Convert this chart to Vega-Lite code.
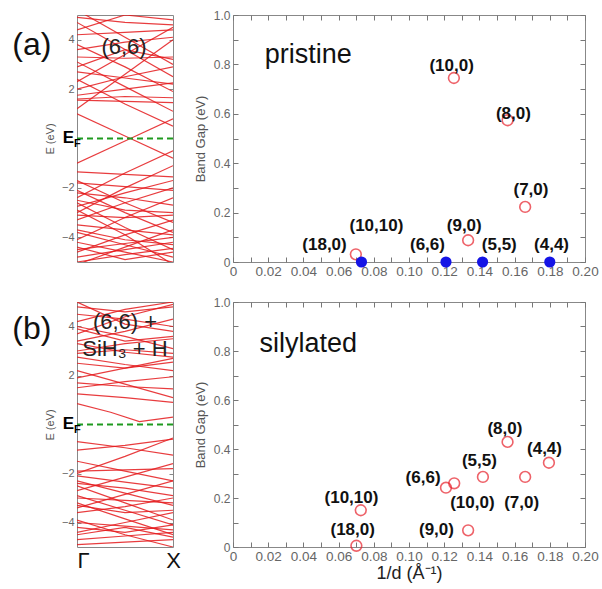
{
"$schema":"https://vega.github.io/schema/vega-lite/v6.json",
"background":"white",
"padding":{"left":11,"top":8,"right":2,"bottom":2},
"config":{"font":"Liberation Sans","view":{"stroke":"#888"},"axis":{"grid":false,"labelFlush":false,"labelOverlap":false}},
"datasets":{
"bandsA":[
{"band":"a1","k":0,"E":1.0},{"band":"a1","k":0.5,"E":0.1},{"band":"a1","k":1,"E":-0.8},
{"band":"a2","k":0,"E":-1.0},{"band":"a2","k":0.5,"E":-0.1},{"band":"a2","k":1,"E":0.8},
{"band":"a3","k":0,"E":2.4},{"band":"a3","k":0.5,"E":1.4},{"band":"a3","k":1,"E":0.5},
{"band":"a4","k":0,"E":-2.4},{"band":"a4","k":0.5,"E":-1.4},{"band":"a4","k":1,"E":-0.5},
{"band":"a5","k":0,"E":1.55},{"band":"a5","k":0.5,"E":1.5},{"band":"a5","k":1,"E":1.45},
{"band":"a6","k":0,"E":-1.35},{"band":"a6","k":0.5,"E":-1.45},{"band":"a6","k":1,"E":-1.55},
{"band":"a7","k":0,"E":1.75},{"band":"a7","k":0.5,"E":2.0},{"band":"a7","k":1,"E":2.25},
{"band":"a8","k":0,"E":2.7},{"band":"a8","k":0.5,"E":2.45},{"band":"a8","k":1,"E":2.2},
{"band":"a9","k":0,"E":3.1},{"band":"a9","k":0.5,"E":2.1},{"band":"a9","k":1,"E":1.1},
{"band":"a10","k":0,"E":-3.0},{"band":"a10","k":0.5,"E":-2.0},{"band":"a10","k":1,"E":-1.1},
{"band":"a11","k":0,"E":4.7},{"band":"a11","k":0.5,"E":3.6},{"band":"a11","k":1,"E":2.5},
{"band":"a12","k":0,"E":2.3},{"band":"a12","k":0.5,"E":3.4},{"band":"a12","k":1,"E":4.5},
{"band":"a13","k":0,"E":4.2},{"band":"a13","k":0.5,"E":4.3},{"band":"a13","k":1,"E":4.4},
{"band":"a14","k":0,"E":3.3},{"band":"a14","k":0.5,"E":3.25},{"band":"a14","k":1,"E":3.3},
{"band":"a15","k":0,"E":5.2},{"band":"a15","k":0.5,"E":4.1},{"band":"a15","k":1,"E":3.0},
{"band":"a16","k":0,"E":1.2},{"band":"a16","k":0.5,"E":2.6},{"band":"a16","k":1,"E":4.0},
{"band":"a17","k":0,"E":3.8},{"band":"a17","k":0.5,"E":2.9},{"band":"a17","k":1,"E":1.9},
{"band":"a18","k":0,"E":4.9},{"band":"a18","k":0.5,"E":4.7},{"band":"a18","k":1,"E":4.6},
{"band":"a19","k":0,"E":2.0},{"band":"a19","k":0.5,"E":2.5},{"band":"a19","k":1,"E":2.9},
{"band":"a20","k":0,"E":-1.8},{"band":"a20","k":0.5,"E":-1.95},{"band":"a20","k":1,"E":-2.1},
{"band":"a21","k":0,"E":-2.1},{"band":"a21","k":0.5,"E":-3.0},{"band":"a21","k":1,"E":-3.8},
{"band":"a22","k":0,"E":-3.3},{"band":"a22","k":0.5,"E":-2.6},{"band":"a22","k":1,"E":-2.0},
{"band":"a23","k":0,"E":-2.6},{"band":"a23","k":0.5,"E":-3.6},{"band":"a23","k":1,"E":-4.5},
{"band":"a24","k":0,"E":-3.5},{"band":"a24","k":0.5,"E":-3.7},{"band":"a24","k":1,"E":-3.9},
{"band":"a25","k":0,"E":-4.1},{"band":"a25","k":0.5,"E":-3.2},{"band":"a25","k":1,"E":-2.4},
{"band":"a26","k":0,"E":-4.5},{"band":"a26","k":0.5,"E":-4.25},{"band":"a26","k":1,"E":-4.0},
{"band":"a27","k":0,"E":-2.9},{"band":"a27","k":0.5,"E":-3.9},{"band":"a27","k":1,"E":-5.1},
{"band":"a28","k":0,"E":-4.8},{"band":"a28","k":0.5,"E":-4.5},{"band":"a28","k":1,"E":-4.2},
{"band":"a29","k":0,"E":-1.7},{"band":"a29","k":0.5,"E":-2.6},{"band":"a29","k":1,"E":-3.4},
{"band":"a30","k":0,"E":-4.2},{"band":"a30","k":0.5,"E":-4.6},{"band":"a30","k":1,"E":-5.0},
{"band":"a31","k":0,"E":-3.8},{"band":"a31","k":0.5,"E":-4.3},{"band":"a31","k":1,"E":-4.8},
{"band":"a32","k":0,"E":-5.0},{"band":"a32","k":0.5,"E":-4.7},{"band":"a32","k":1,"E":-4.45},
{"band":"a33","k":0,"E":-2.2},{"band":"a33","k":0.5,"E":-2.4},{"band":"a33","k":1,"E":-2.7},
{"band":"a34","k":0,"E":-4.6},{"band":"a34","k":0.5,"E":-3.9},{"band":"a34","k":1,"E":-3.3},
{"band":"a35","k":0,"E":-3.1},{"band":"a35","k":0.5,"E":-3.2},{"band":"a35","k":1,"E":-3.1},
{"band":"a37","k":0,"E":-2.75},{"band":"a37","k":0.5,"E":-2.2},{"band":"a37","k":1,"E":-1.7},
{"band":"a38","k":0,"E":3.6},{"band":"a38","k":0.5,"E":3.9},{"band":"a38","k":1,"E":4.1},
{"band":"a39","k":0,"E":2.9},{"band":"a39","k":0.5,"E":3.6},{"band":"a39","k":1,"E":3.2},
{"band":"a40","k":0,"E":-5.1},{"band":"a40","k":0.5,"E":-4.4},{"band":"a40","k":1,"E":-3.7},
{"band":"a41","k":0,"E":-3.7},{"band":"a41","k":0.5,"E":-4.1},{"band":"a41","k":1,"E":-4.3},
{"band":"a42","k":0,"E":-4.4},{"band":"a42","k":0.5,"E":-4.9},{"band":"a42","k":1,"E":-4.6},
{"band":"a43","k":0,"E":-2.5},{"band":"a43","k":0.5,"E":-2.9},{"band":"a43","k":1,"E":-3.0},
{"band":"a44","k":0,"E":4.4},{"band":"a44","k":0.5,"E":5.0},{"band":"a44","k":1,"E":4.8},
{"band":"a45","k":0,"E":1.6},{"band":"a45","k":0.5,"E":1.7},{"band":"a45","k":1,"E":1.65}
],
"bandsB":[
{"band":"b1","k":0,"E":0.85},{"band":"b1","k":0.35,"E":0.5},{"band":"b1","k":0.65,"E":0.12},{"band":"b1","k":1,"E":0.3},
{"band":"b2","k":0,"E":-0.7},{"band":"b2","k":0.5,"E":-0.95},{"band":"b2","k":1,"E":-1.25},
{"band":"b3","k":0,"E":-1.05},{"band":"b3","k":0.5,"E":-0.85},{"band":"b3","k":1,"E":-0.6},
{"band":"b4","k":0,"E":-2.0},{"band":"b4","k":0.5,"E":-1.3},{"band":"b4","k":1,"E":-0.55},
{"band":"b5","k":0,"E":1.25},{"band":"b5","k":0.5,"E":1.1},{"band":"b5","k":1,"E":0.9},
{"band":"b6","k":0,"E":1.5},{"band":"b6","k":0.5,"E":1.75},{"band":"b6","k":1,"E":1.95},
{"band":"b7","k":0,"E":2.2},{"band":"b7","k":0.5,"E":1.65},{"band":"b7","k":1,"E":1.1},
{"band":"b8","k":0,"E":2.5},{"band":"b8","k":0.5,"E":2.3},{"band":"b8","k":1,"E":2.55},
{"band":"b9","k":0,"E":1.9},{"band":"b9","k":0.5,"E":2.3},{"band":"b9","k":1,"E":2.7},
{"band":"b10","k":0,"E":2.75},{"band":"b10","k":0.5,"E":2.45},{"band":"b10","k":1,"E":2.2},
{"band":"b11","k":0,"E":1.7},{"band":"b11","k":0.5,"E":1.55},{"band":"b11","k":1,"E":1.45},
{"band":"b12","k":0,"E":-2.3},{"band":"b12","k":0.5,"E":-2.8},{"band":"b12","k":1,"E":-3.3},
{"band":"b13","k":0,"E":-2.5},{"band":"b13","k":0.5,"E":-3.2},{"band":"b13","k":1,"E":-3.9},
{"band":"b14","k":0,"E":-2.9},{"band":"b14","k":0.5,"E":-3.5},{"band":"b14","k":1,"E":-4.1},
{"band":"b15","k":0,"E":-3.2},{"band":"b15","k":0.5,"E":-3.85},{"band":"b15","k":1,"E":-4.5},
{"band":"b16","k":0,"E":-2.1},{"band":"b16","k":0.5,"E":-2.35},{"band":"b16","k":1,"E":-2.6},
{"band":"b17","k":0,"E":-1.9},{"band":"b17","k":0.5,"E":-1.85},{"band":"b17","k":1,"E":-1.8},
{"band":"b18","k":0,"E":-3.6},{"band":"b18","k":0.5,"E":-3.35},{"band":"b18","k":1,"E":-3.0},
{"band":"b19","k":0,"E":-4.0},{"band":"b19","k":0.5,"E":-4.15},{"band":"b19","k":1,"E":-4.3},
{"band":"b20","k":0,"E":-4.4},{"band":"b20","k":0.5,"E":-4.0},{"band":"b20","k":1,"E":-3.6},
{"band":"b21","k":0,"E":-4.7},{"band":"b21","k":0.5,"E":-4.55},{"band":"b21","k":1,"E":-4.4},
{"band":"b22","k":0,"E":-3.9},{"band":"b22","k":0.5,"E":-4.5},{"band":"b22","k":1,"E":-5.0},
{"band":"b23","k":0,"E":-4.9},{"band":"b23","k":0.5,"E":-4.8},{"band":"b23","k":1,"E":-4.7},
{"band":"b24","k":0,"E":-2.7},{"band":"b24","k":0.5,"E":-2.15},{"band":"b24","k":1,"E":-1.6},
{"band":"b25","k":0,"E":-3.4},{"band":"b25","k":0.5,"E":-2.85},{"band":"b25","k":1,"E":-2.3},
{"band":"b26","k":0,"E":-1.5},{"band":"b26","k":0.5,"E":-1.9},{"band":"b26","k":1,"E":-2.3},
{"band":"b27","k":0,"E":-3.0},{"band":"b27","k":0.5,"E":-3.1},{"band":"b27","k":1,"E":-3.2},
{"band":"b28","k":0,"E":-4.2},{"band":"b28","k":0.5,"E":-4.4},{"band":"b28","k":1,"E":-4.1},
{"band":"b29","k":0,"E":3.0},{"band":"b29","k":0.5,"E":3.3},{"band":"b29","k":1,"E":3.5},
{"band":"b30","k":0,"E":3.4},{"band":"b30","k":0.5,"E":3.8},{"band":"b30","k":1,"E":4.3},
{"band":"b31","k":0,"E":4.0},{"band":"b31","k":0.5,"E":3.6},{"band":"b31","k":1,"E":3.1},
{"band":"b32","k":0,"E":4.5},{"band":"b32","k":0.5,"E":4.3},{"band":"b32","k":1,"E":4.0},
{"band":"b33","k":0,"E":3.7},{"band":"b33","k":0.5,"E":4.4},{"band":"b33","k":1,"E":4.9},
{"band":"b34","k":0,"E":4.8},{"band":"b34","k":0.5,"E":4.6},{"band":"b34","k":1,"E":4.8},
{"band":"b35","k":0,"E":2.9},{"band":"b35","k":0.5,"E":3.05},{"band":"b35","k":1,"E":2.9},
{"band":"b36","k":0,"E":3.3},{"band":"b36","k":0.5,"E":2.95},{"band":"b36","k":1,"E":2.75},
{"band":"b37","k":0,"E":4.2},{"band":"b37","k":0.5,"E":4.7},{"band":"b37","k":1,"E":5.0},
{"band":"b38","k":0,"E":5.0},{"band":"b38","k":0.5,"E":4.1},{"band":"b38","k":1,"E":3.8},
{"band":"b39","k":0,"E":-3.3},{"band":"b39","k":0.5,"E":-3.6},{"band":"b39","k":1,"E":-3.5},
{"band":"b40","k":0,"E":-2.4},{"band":"b40","k":0.5,"E":-2.6},{"band":"b40","k":1,"E":-2.9},
{"band":"b41","k":0,"E":-4.5},{"band":"b41","k":0.5,"E":-4.2},{"band":"b41","k":1,"E":-4.6},
{"band":"b42","k":0,"E":3.9},{"band":"b42","k":0.5,"E":3.4},{"band":"b42","k":1,"E":3.6}
],
"gapA":[
{"tube":"(18,0)","kind":"semiconducting","inv_d":0.0698,"gap":0.031,"lx":0.052,"ly":0.068},
{"tube":"(10,0)","kind":"semiconducting","inv_d":0.1255,"gap":0.745,"lx":0.1242,"ly":0.793},
{"tube":"(8,0)","kind":"semiconducting","inv_d":0.156,"gap":0.574,"lx":0.1593,"ly":0.6},
{"tube":"(7,0)","kind":"semiconducting","inv_d":0.166,"gap":0.223,"lx":0.1693,"ly":0.29},
{"tube":"(9,0)","kind":"semiconducting","inv_d":0.1336,"gap":0.088,"lx":0.1314,"ly":0.145},
{"tube":"(10,10)","kind":"metallic","inv_d":0.073,"gap":0,"lx":0.0815,"ly":0.145},
{"tube":"(6,6)","kind":"metallic","inv_d":0.121,"gap":0,"lx":0.1105,"ly":0.068},
{"tube":"(5,5)","kind":"metallic","inv_d":0.1418,"gap":0,"lx":0.1513,"ly":0.068},
{"tube":"(4,4)","kind":"metallic","inv_d":0.18,"gap":0,"lx":0.181,"ly":0.068}
],
"gapB":[
{"tube":"(18,0)","inv_d":0.0701,"gap":0.005,"lx":0.068,"ly":0.071},
{"tube":"(10,10)","inv_d":0.0726,"gap":0.15,"lx":0.0673,"ly":0.201},
{"tube":"(9,0)","inv_d":0.1336,"gap":0.068,"lx":0.1156,"ly":0.071},
{"tube":"(6,6)","inv_d":0.121,"gap":0.242,"lx":0.108,"ly":0.283},
{"tube":"(10,0)","inv_d":0.1257,"gap":0.26,"lx":0.136,"ly":0.181},
{"tube":"(5,5)","inv_d":0.142,"gap":0.286,"lx":0.14,"ly":0.351},
{"tube":"(8,0)","inv_d":0.156,"gap":0.429,"lx":0.1545,"ly":0.481},
{"tube":"(7,0)","inv_d":0.166,"gap":0.286,"lx":0.164,"ly":0.181},
{"tube":"(4,4)","inv_d":0.1795,"gap":0.344,"lx":0.177,"ly":0.399}
]
},
"concat":[
{
 "width":96,"height":247,
 "layer":[
  {"data":{"name":"bandsA"},"mark":{"type":"line","color":"#e41a1c","strokeWidth":1.2,"opacity":0.85,"clip":true},
   "encoding":{"x":{"field":"k","type":"quantitative","scale":{"domain":[0,1],"nice":false},"axis":null},
     "y":{"field":"E","type":"quantitative","scale":{"domain":[-5,5],"nice":false},"axis":{"values":[-4,-2,2,4],"title":"E (eV)","titleFontSize":11,"titleFontWeight":"normal","titleColor":"#555","labelColor":"#666","labelFontSize":11,"tickSize":-4,"labelPadding":7,"tickColor":"#888","domain":false,"titlePadding":6}},
     "detail":{"field":"band","type":"nominal"}}},
  {"data":{"values":[{"E":0}]},"mark":{"type":"rule","color":"#1f9a1f","strokeWidth":2,"strokeDash":[6,4]},
   "encoding":{"y":{"field":"E","type":"quantitative","axis":{"orient":"right","labels":false,"values":[-4,-2,2,4],"tickSize":-4,"domain":false,"title":null,"tickColor":"#888"}}}},
  {"data":{"values":[{"t":"(a)","k":-0.47,"E":3.8}]},"mark":{"type":"text","fontSize":32,"align":"center","baseline":"middle","color":"#111"},
   "encoding":{"x":{"field":"k","type":"quantitative","axis":null},"y":{"field":"E","type":"quantitative","axis":null},"text":{"field":"t"}}},
  {"data":{"values":[{"t":"(6,6)","k":0.49,"E":3.7}]},"mark":{"type":"text","fontSize":22,"align":"center","baseline":"middle","color":"#222"},
   "encoding":{"x":{"field":"k","type":"quantitative","axis":null},"y":{"field":"E","type":"quantitative","axis":null},"text":{"field":"t"}}},
  {"data":{"values":[{"t":"E","k":0,"E":0}]},"mark":{"type":"text","fontSize":17,"fontWeight":"bold","align":"right","baseline":"middle","dx":-3,"dy":-1,"color":"#000"},
   "encoding":{"x":{"field":"k","type":"quantitative","axis":null},"y":{"field":"E","type":"quantitative","axis":null},"text":{"field":"t"}}},
  {"data":{"values":[{"t":"F","k":0,"E":0}]},"mark":{"type":"text","fontSize":11,"fontWeight":"bold","align":"left","baseline":"middle","dx":-3,"dy":5,"color":"#000"},
   "encoding":{"x":{"field":"k","type":"quantitative","axis":null},"y":{"field":"E","type":"quantitative","axis":null},"text":{"field":"t"}}}
 ],
 "resolve":{"axis":{"x":"independent","y":"independent"}}
},
{
 "width":352,"height":247,
 "layer":[
  {"data":{"name":"gapA"},"transform":[{"filter":"datum.kind=='semiconducting'"}],
   "mark":{"type":"point","shape":"circle","filled":false,"color":"#e8202a","size":115,"strokeWidth":1.6},
   "encoding":{"x":{"field":"inv_d","type":"quantitative","scale":{"domain":[0,0.2],"nice":false},
      "axis":{"values":[0,0.01,0.02,0.03,0.04,0.05,0.06,0.07,0.08,0.09,0.1,0.11,0.12,0.13,0.14,0.15,0.16,0.17,0.18,0.19,0.2],"labelExpr":"round(datum.value*100)%2==0 ? (datum.value==0 ? '0' : format(datum.value,'.2f')) : ''","labelFontSize":13.5,"labelColor":"#666","tickSize":-5,"labelPadding":7,"tickColor":"#777","domain":false,"title":null}},
     "y":{"field":"gap","type":"quantitative","scale":{"domain":[0,1],"nice":false},
      "axis":{"values":[0,0.1,0.2,0.3,0.4,0.5,0.6,0.7,0.8,0.9,1],"labelExpr":"round(datum.value*10)%2==0 ? (datum.value==0 ? '0' : format(datum.value,'.1f')) : ''","labelFontSize":12,"labelColor":"#666","tickSize":-5,"labelPadding":8,"tickColor":"#777","domain":false,"title":"Band Gap (eV)","titleFontSize":13,"titleFontWeight":"normal","titleColor":"#555","titlePadding":6}}}},
  {"data":{"values":[{"t":"pristine","x":0.018,"y":0.838}]},"mark":{"type":"text","fontSize":27,"align":"left","baseline":"middle","color":"#111"},
   "encoding":{"x":{"field":"x","type":"quantitative","axis":{"orient":"top","values":[0,0.01,0.02,0.03,0.04,0.05,0.06,0.07,0.08,0.09,0.1,0.11,0.12,0.13,0.14,0.15,0.16,0.17,0.18,0.19,0.2],"labels":false,"tickSize":-5,"tickColor":"#777","domain":false,"title":null}},
     "y":{"field":"y","type":"quantitative","axis":{"orient":"right","values":[0,0.1,0.2,0.3,0.4,0.5,0.6,0.7,0.8,0.9,1],"labels":false,"tickSize":-5,"tickColor":"#777","domain":false,"title":null}},
     "text":{"field":"t"}}},
  {"data":{"name":"gapA"},"transform":[{"filter":"datum.kind=='metallic'"}],
   "mark":{"type":"circle","color":"#1414e6","size":125,"opacity":1},
   "encoding":{"x":{"field":"inv_d","type":"quantitative","axis":null},"y":{"field":"gap","type":"quantitative","axis":null}}},
  {"data":{"name":"gapA"},"mark":{"type":"text","fontSize":17,"fontWeight":"bold","align":"center","baseline":"middle","color":"#111"},
   "encoding":{"x":{"field":"lx","type":"quantitative","axis":null},"y":{"field":"ly","type":"quantitative","axis":null},"text":{"field":"tube"}}}
 ],
 "resolve":{"axis":{"x":"independent","y":"independent"}}
},
{
 "width":96,"height":245,
 "layer":[
  {"data":{"name":"bandsB"},"mark":{"type":"line","color":"#e41a1c","strokeWidth":1.2,"opacity":0.85,"clip":true},
   "encoding":{"x":{"field":"k","type":"quantitative","scale":{"domain":[0,1],"nice":false},"axis":{"values":[0,1],"labelExpr":"datum.value==0 ? 'Γ' : 'X'","labelFontSize":22,"labelColor":"#111","ticks":false,"domain":false,"labelPadding":3,"labelAlign":{"condition":{"test":"datum.value == 0","value":"left"},"value":"center"},"title":null}},
     "y":{"field":"E","type":"quantitative","scale":{"domain":[-5,5],"nice":false},"axis":{"values":[-4,-2,2,4],"title":"E (eV)","titleFontSize":11,"titleFontWeight":"normal","titleColor":"#555","labelColor":"#666","labelFontSize":11,"tickSize":-4,"labelPadding":7,"tickColor":"#888","domain":false,"titlePadding":6}},
     "detail":{"field":"band","type":"nominal"}}},
  {"data":{"values":[{"E":0}]},"mark":{"type":"rule","color":"#1f9a1f","strokeWidth":2,"strokeDash":[6,4]},
   "encoding":{"y":{"field":"E","type":"quantitative","axis":{"orient":"right","labels":false,"values":[-4,-2,2,4],"tickSize":-4,"domain":false,"title":null,"tickColor":"#888"}}}},
  {"data":{"values":[{"t":"(b)","k":-0.47,"E":3.9}]},"mark":{"type":"text","fontSize":32,"align":"center","baseline":"middle","color":"#111"},
   "encoding":{"x":{"field":"k","type":"quantitative","axis":null},"y":{"field":"E","type":"quantitative","axis":null},"text":{"field":"t"}}},
  {"data":{"values":[{"t":"(6,6) +","k":0.5,"E":4.2},{"t":"SiH₃ + H","k":0.5,"E":3.1}]},"mark":{"type":"text","fontSize":22,"align":"center","baseline":"middle","color":"#222"},
   "encoding":{"x":{"field":"k","type":"quantitative","axis":null},"y":{"field":"E","type":"quantitative","axis":null},"text":{"field":"t"}}},
  {"data":{"values":[{"t":"E","k":0,"E":0}]},"mark":{"type":"text","fontSize":17,"fontWeight":"bold","align":"right","baseline":"middle","dx":-3,"dy":-1,"color":"#000"},
   "encoding":{"x":{"field":"k","type":"quantitative","axis":null},"y":{"field":"E","type":"quantitative","axis":null},"text":{"field":"t"}}},
  {"data":{"values":[{"t":"F","k":0,"E":0}]},"mark":{"type":"text","fontSize":11,"fontWeight":"bold","align":"left","baseline":"middle","dx":-3,"dy":5,"color":"#000"},
   "encoding":{"x":{"field":"k","type":"quantitative","axis":null},"y":{"field":"E","type":"quantitative","axis":null},"text":{"field":"t"}}}
 ],
 "resolve":{"axis":{"x":"independent","y":"independent"}}
},
{
 "width":352,"height":245,
 "layer":[
  {"data":{"name":"gapB"},
   "mark":{"type":"point","shape":"circle","filled":false,"color":"#e8202a","size":115,"strokeWidth":1.6},
   "encoding":{"x":{"field":"inv_d","type":"quantitative","scale":{"domain":[0,0.2],"nice":false},
      "axis":{"values":[0,0.01,0.02,0.03,0.04,0.05,0.06,0.07,0.08,0.09,0.1,0.11,0.12,0.13,0.14,0.15,0.16,0.17,0.18,0.19,0.2],"labelExpr":"round(datum.value*100)%2==0 ? (datum.value==0 ? '0' : format(datum.value,'.2f')) : ''","labelFontSize":13.5,"labelColor":"#666","tickSize":-5,"labelPadding":7,"tickColor":"#777","domain":false,"title":"1/d (Å⁻¹)","titleFontSize":18,"titleFontWeight":"normal","titleColor":"#222","titlePadding":2}},
     "y":{"field":"gap","type":"quantitative","scale":{"domain":[0,1],"nice":false},
      "axis":{"values":[0,0.1,0.2,0.3,0.4,0.5,0.6,0.7,0.8,0.9,1],"labelExpr":"round(datum.value*10)%2==0 ? (datum.value==0 ? '0' : format(datum.value,'.1f')) : ''","labelFontSize":12,"labelColor":"#666","tickSize":-5,"labelPadding":8,"tickColor":"#777","domain":false,"title":"Band Gap (eV)","titleFontSize":13,"titleFontWeight":"normal","titleColor":"#555","titlePadding":6}}}},
  {"data":{"values":[{"t":"silylated","x":0.015,"y":0.83}]},"mark":{"type":"text","fontSize":27,"align":"left","baseline":"middle","color":"#111"},
   "encoding":{"x":{"field":"x","type":"quantitative","axis":{"orient":"top","values":[0,0.01,0.02,0.03,0.04,0.05,0.06,0.07,0.08,0.09,0.1,0.11,0.12,0.13,0.14,0.15,0.16,0.17,0.18,0.19,0.2],"labels":false,"tickSize":-5,"tickColor":"#777","domain":false,"title":null}},
     "y":{"field":"y","type":"quantitative","axis":{"orient":"right","values":[0,0.1,0.2,0.3,0.4,0.5,0.6,0.7,0.8,0.9,1],"labels":false,"tickSize":-5,"tickColor":"#777","domain":false,"title":null}},
     "text":{"field":"t"}}},
  {"data":{"name":"gapB"},"mark":{"type":"text","fontSize":17,"fontWeight":"bold","align":"center","baseline":"middle","color":"#111"},
   "encoding":{"x":{"field":"lx","type":"quantitative","axis":null},"y":{"field":"ly","type":"quantitative","axis":null},"text":{"field":"tube"}}}
 ],
 "resolve":{"axis":{"x":"independent","y":"independent"}}
}
],
"columns":2,
"spacing":{"row":17,"column":12}
}
